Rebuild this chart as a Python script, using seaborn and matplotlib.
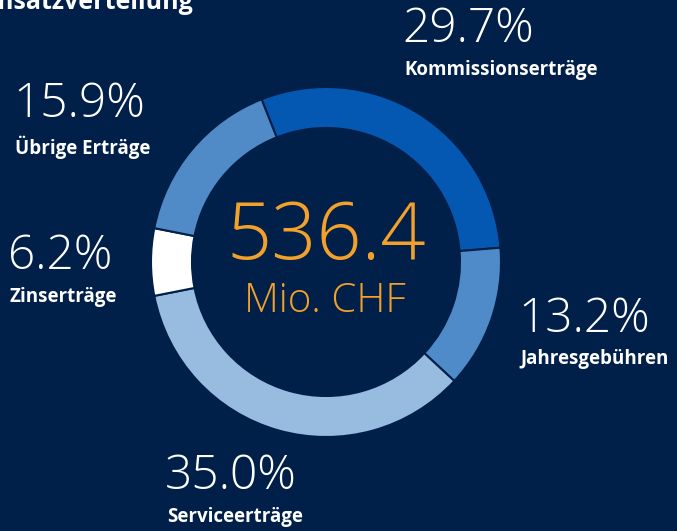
import matplotlib.pyplot as plt
import seaborn as sns

# Umsatzverteilung (share of total revenue, %)
categories = ['Kommissionserträge', 'Jahresgebühren', 'Serviceerträge',
              'Zinserträge', 'Übrige Erträge']
shares = [29.7, 13.2, 35.0, 6.2, 15.9]
total = 536.4
unit = 'Mio. CHF'
title = 'Umsatzverteilung'

bg = '#002049'
colors = ['#0558b2', '#4f8bc9', '#98bbe0', '#ffffff', '#508bc8']
orange = '#f4a12b'

sns.set_theme(style='dark', rc={'figure.facecolor': bg, 'axes.facecolor': bg})
plt.rcParams['font.family'] = ['Open Sans', 'DejaVu Sans']

fig = plt.figure(figsize=(6.77, 5.31), dpi=100)
ax = fig.add_axes([0, 0, 1, 1])

ax.pie(shares, colors=colors, startangle=111.6, counterclock=False,
       center=(326, 269), radius=175, frame=True,
       wedgeprops=dict(width=41, edgecolor=bg, linewidth=1.5))
ax.set_xlim(0, 677)
ax.set_ylim(0, 531)
ax.set_aspect('equal')
ax.axis('off')

# label positions (left edge, y of percentage, y of name)
label_pos = {
    'Kommissionserträge': (402, 501, 461),
    'Jahresgebühren': (518, 211, 172),
    'Serviceerträge': (165, 54, 14),
    'Zinserträge': (8, 274, 234),
    'Übrige Erträge': (13, 426, 384),
}
for cat, val in zip(categories, shares):
    x, y_pct, y_lab = label_pos[cat]
    ax.text(x, y_pct, f'{val:.1f}%', color='white', fontsize=34.5,
            fontweight='light', ha='left', va='center')
    ax.text(x + 2, y_lab, cat, color='white', fontsize=13.5,
            fontweight='bold', ha='left', va='center')

ax.text(326, 293, f'{total:.1f}', color=orange, fontsize=57,
        fontweight='light', ha='center', va='center')
ax.text(325, 229, unit, color=orange, fontsize=29,
        fontweight='light', ha='center', va='center')

# title is partly cut off at the top-left edge, as in the original
ax.text(-29, 522, title, color='white', fontsize=18, fontweight='bold',
        ha='left', va='baseline')

fig.savefig('out.png', dpi=100, facecolor=bg)
